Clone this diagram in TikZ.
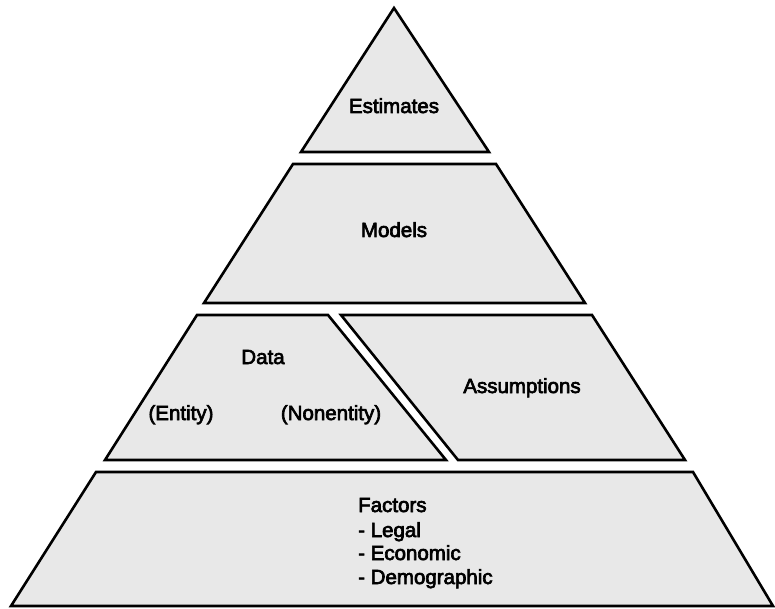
\documentclass[tikz,border=0pt]{standalone}
\usepackage{fontspec}
\setmainfont{Liberation Sans}[FakeBold=3.2]
\begin{document}
\begin{tikzpicture}[x=1pt,y=-1pt,
  tier/.style={draw=black, line width=2.6pt, line join=miter, fill=black!9},
  lbl/.style={font=\fontsize{20.5}{22}\selectfont, inner sep=0pt, anchor=base},
  lblw/.style={lbl, anchor=base west}]
\useasboundingbox (0,0) rectangle (775,609);
% tiers
\draw[tier] (394,8) -- (489,152) -- (301,152) -- cycle;
\draw[tier] (293,164) -- (496,164) -- (585,303) -- (204,303) -- cycle;
\draw[tier] (197,315) -- (328,315) -- (446,460) -- (105,460) -- cycle;
\draw[tier] (341,315) -- (592,315) -- (685,460) -- (458,460) -- cycle;
\draw[tier] (96,472) -- (693,472) -- (773,606) -- (11,606) -- cycle;
% labels
\node[lbl] (est) at (394,113) {Estimates};
\node[lbl] (mod) at (394,237) {Models};
\node[lbl] (dat) at (263,364) {Data};
\node[lbl] (ent) at (181,420) {(Entity)};
\node[lbl] (non) at (331,420) {(Nonentity)};
\node[lbl] (ass) at (522,393) {Assumptions};
\node[lblw] (fac) at (358,512) {Factors};
\node[lblw] (leg) at (358,537) {- Legal};
\node[lblw] (eco) at (358,560) {- Economic};
\node[lblw] (dem) at (358,584) {- Demographic};
\end{tikzpicture}
\end{document}
